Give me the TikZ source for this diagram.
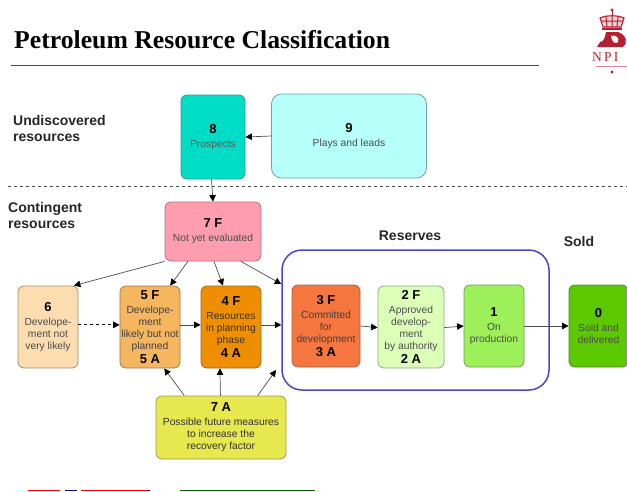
\documentclass[tikz,border=0pt]{standalone}
\usepackage{fontspec}
\setmainfont{Liberation Sans}
\newfontfamily\titlefont{Liberation Serif}
\usetikzlibrary{arrows.meta}
\definecolor{npired}{HTML}{B4202F}
\definecolor{c8fill}{HTML}{00DDC6}
\definecolor{c8line}{HTML}{2F9A90}
\definecolor{c9fill}{HTML}{B6FFFB}
\definecolor{c9line}{HTML}{6FA3A3}
\definecolor{f7fill}{HTML}{FF9DB0}
\definecolor{f7line}{HTML}{B07080}
\definecolor{c6fill}{HTML}{FBDDB0}
\definecolor{c6line}{HTML}{A09070}
\definecolor{f5fill}{HTML}{F5B65F}
\definecolor{f5line}{HTML}{9A7A45}
\definecolor{f4fill}{HTML}{EE8E00}
\definecolor{f4line}{HTML}{9A6A20}
\definecolor{f3fill}{HTML}{F5763F}
\definecolor{f3line}{HTML}{A8603F}
\definecolor{f2fill}{HTML}{DCFFB8}
\definecolor{f2line}{HTML}{8AA880}
\definecolor{c1fill}{HTML}{9EF05A}
\definecolor{c1line}{HTML}{6AA050}
\definecolor{c0fill}{HTML}{5CC800}
\definecolor{c0line}{HTML}{4A8A20}
\definecolor{a7fill}{HTML}{E6E84E}
\definecolor{a7line}{HTML}{9A9A50}
\definecolor{resline}{HTML}{4848C0}
\newcommand{\nrlab}[1]{{\color{black}\fontsize{13}{13}\bfseries\selectfont #1}}
\tikzstyle{cls}=[shape=rectangle, draw, rounded corners=6pt, inner sep=0pt, align=center, line width=0.8pt, font=\fontsize{10.3}{12}\selectfont]
\tikzstyle{grp}=[inner sep=0pt, align=left, font=\fontsize{14}{16}\bfseries\selectfont, text=black!85]
\tikzstyle{arr}=[-{Triangle[length=6.5pt,width=6.5pt,black]}, line width=0.7pt, draw=black!70]

\begin{document}
\begin{tikzpicture}[x=1pt,y=-1pt]
\useasboundingbox (0,0) rectangle (627,491);

\node (title) [anchor=base west,inner sep=0pt,font=\titlefont\fontsize{25.7}{26}\bfseries\selectfont] at (14,48) {Petroleum Resource Classification};
\coordinate (rulea) at (11,65);
\coordinate (ruleb) at (539,65);
\draw[line width=0.7pt,black!70] (rulea) -- (ruleb);
\coordinate (dasha) at (8,186.5);
\coordinate (dashb) at (627,186.5);
\draw[dashed,line width=0.5pt,black!70] (dasha) -- (dashb);

\node (undisc) [grp,anchor=west] at (13,128) {Undiscovered\\resources};
\node (conting) [grp,anchor=west] at (8,215) {Contingent\\resources};
\node (reslab) [grp] at (410,236) {Reserves};
\node (soldlab) [grp] at (579,241) {Sold};

\node (res) [draw=resline,line width=1.5pt,rounded corners=20pt,minimum width=267pt,minimum height=140pt,inner sep=0pt] at (415.5,320) {};

\node (c8) [cls,fill=c8fill,draw=c8line,minimum width=64pt,minimum height=84pt,text=black!65] at (213,137) {\nrlab{8}\\[2pt]Prospects};
\node (c9) [cls,rounded corners=10pt,fill=c9fill,draw=c9line,minimum width=155pt,minimum height=84pt,text=black!70] at (349,136) {\nrlab{9}\\[2pt]Plays and leads};
\node (f7) [cls,fill=f7fill,draw=f7line,minimum width=96pt,minimum height=59pt,text=black!70] at (213,231.5) {\nrlab{7 F}\\[2pt]Not yet evaluated};
\node (c6) [cls,fill=c6fill,draw=c6line,minimum width=60pt,minimum height=82pt,text=black!70] at (48,327) {\nrlab{6}\\[2pt]Develope-\\ment not\\very likely};
\node (f5) [cls,fill=f5fill,draw=f5line,minimum width=60pt,minimum height=82pt,text=black!75] at (150,327) {\nrlab{5 F}\\[2pt]Develope-\\ment\\likely but not\\planned\\[2pt]\nrlab{5 A}};
\node (f4) [cls,fill=f4fill,draw=f4line,minimum width=60pt,minimum height=82pt,text=black!80] at (231,327) {\nrlab{4 F}\\[2pt]Resources\\in planning\\phase\\[2pt]\nrlab{4 A}};
\node (f3) [cls,fill=f3fill,draw=f3line,minimum width=68pt,minimum height=82pt,text=black!75] at (326,326) {\nrlab{3 F}\\[2pt]Committed\\for\\development\\[2pt]\nrlab{3 A}};
\node (f2) [cls,fill=f2fill,draw=f2line,minimum width=66pt,minimum height=82pt,text=black!70] at (411,327) {\nrlab{2 F}\\[2pt]Approved\\develop-\\ment\\by authority\\[2pt]\nrlab{2 A}};
\node (c1) [cls,fill=c1fill,draw=c1line,minimum width=60pt,minimum height=82pt,text=black!70] at (494,326) {\nrlab{1}\\[2pt]On\\production};
\node (c0) [cls,fill=c0fill,draw=c0line,minimum width=59pt,minimum height=82pt,text=black!70] at (598.5,326) {\nrlab{0}\\[2pt]Sold and\\delivered};
\node (a7) [cls,fill=a7fill,draw=a7line,minimum width=130pt,minimum height=63pt,text=black!80] at (221,427.5) {\nrlab{7 A}\\[2pt]Possible future measures\\to increase the\\recovery factor};

\coordinate (free) at (276,370);

\draw[arr] (c9.west) -- (c8.east);
\draw[arr] (c8.268) -- (f7.90);
\draw[arr] (f7.south west) -- (c6.58);
\draw[arr] (f7.230) -- (f5.64);
\draw[arr] (f7.272) -- (f4.101);
\draw[arr] (f7.313) -- (res.165);
\draw[arr,dashed,line width=1.1pt,draw=black] (c6.4) -- (f5.176);
\draw[arr] (f5.4) -- (f4.176);
\draw[arr] (f4.4) -- (res.west|-f4.4);
\draw[arr] (f3.east) -- (f2.181);
\draw[arr] (f2.359) -- (c1.west);
\draw[arr] (c1.east) -- (c0.west);
\draw[arr] (a7.139) -- (f5.289);
\draw[arr] (a7.91) -- (f4.255);
\draw[arr] (a7.41) -- (free);

% logo
\fill[npired] (612,10) circle (1.6);
\draw[npired,line width=1pt] (612,11) -- (612,16);
\draw[npired,line width=1.1pt,fill=npired!20] (600,18) .. controls (606,15) and (618,15) .. (624,18) -- (621,27) -- (603,27) -- cycle;
\draw[npired,line width=1pt] (606,17) -- (607,27) (612,16) -- (612,27) (618,17) -- (617,27) (601,21) -- (623,21);
\fill[npired] (602,28) rectangle (622,30);
\fill[npired] (597,47) -- (600,42) .. controls (604,42) and (605,37) .. (606,32) -- (618,32) .. controls (627,35) and (628,44) .. (623,47) -- cycle;
\fill[white] (611,36) .. controls (615,34) and (620,38) .. (618,42) .. controls (616,44) and (612,43) .. (611,36) -- cycle;
\node (npi) [inner sep=0pt,anchor=base west,text=npired,font=\titlefont\fontsize{13.5}{14}\selectfont] at (592,61) {N\,P\,I};
\fill[npired!55] (596,65.5) rectangle (627,66.8);
\fill[npired] (612,72) circle (1.6);

% strip at the lower edge
\fill[red] (28,489.5) rectangle (60,491);
\fill[blue!50!black] (65,489.5) rectangle (77,491);
\fill[red] (81,489.5) rectangle (147,491);
\fill[black] (147,489.5) rectangle (150,491);
\fill[green!40!black] (180,489.5) rectangle (315,491);
\end{tikzpicture}
\end{document}
